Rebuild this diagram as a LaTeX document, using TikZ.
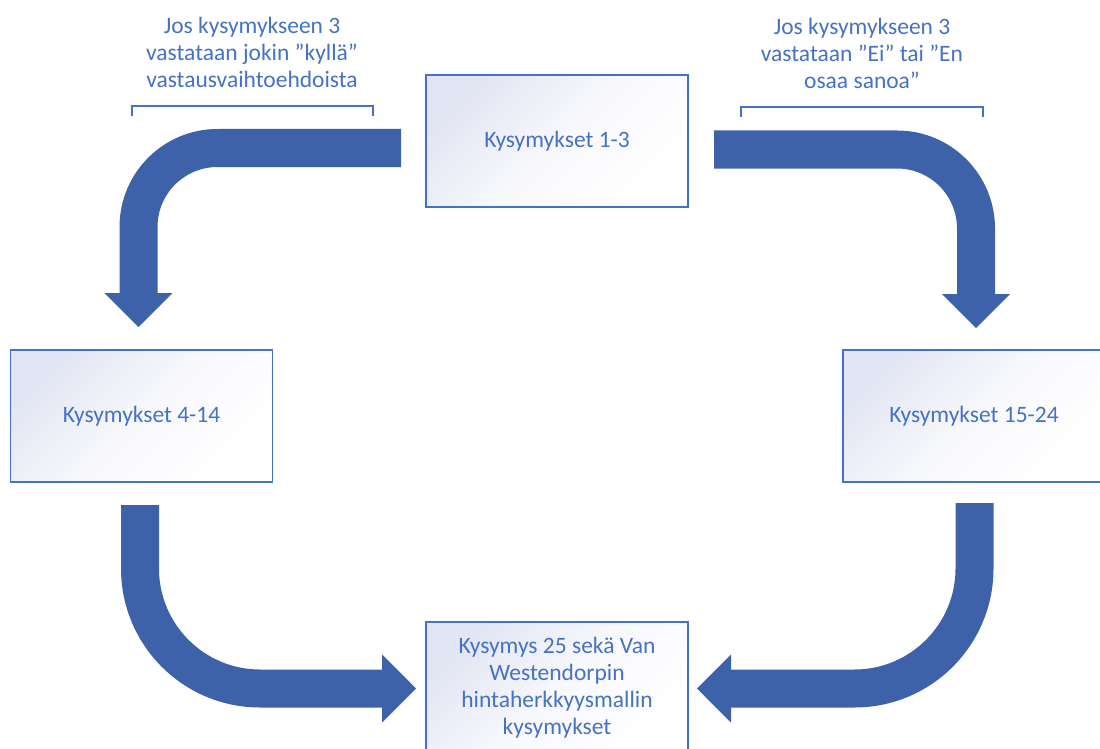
\documentclass[tikz,border=0pt]{standalone}
\usepackage{fontspec}
\setmainfont{Carlito}
\usetikzlibrary{arrows.meta}
\definecolor{txtblue}{RGB}{68,114,196}
\definecolor{arrblue}{RGB}{61,98,170}
\definecolor{boxtop}{RGB}{226,229,243}
\tikzset{
  qbox/.style={draw=txtblue, line width=1.3pt, top color=boxtop, bottom color=white, middle color=white!75!boxtop, shading angle=45,
    minimum width=262pt, minimum height=132pt, inner sep=2pt, align=center, text=txtblue,
    font=\fontsize{23.5}{27}\selectfont},
  lbl/.style={align=center, text=txtblue, font=\fontsize{23.5}{27}\selectfont, inner sep=0pt},
  brack/.style={draw=txtblue, line width=1.2pt},
  bigarrow/.style={draw=arrblue, line width=38pt, line cap=butt,
    -{Triangle[width=68pt,length=34pt,line width=0.1pt]}},
}
\begin{document}
\begin{tikzpicture}[x=1pt,y=-1pt]
\clip (0,0) rectangle (1100,749);
\useasboundingbox (0,0) rectangle (1100,749);
\node[qbox] (b1) at (557,141) {Kysymykset 1-3};
\node[qbox] (b2) at (141.5,416) {Kysymykset 4-14};
\node[qbox] (b3) at (974,416) {Kysymykset 15-24};
\node[qbox] (b4) at (557,688) {Kysymys 25 sekä Van\\Westendorpin\\hintaherkkyysmallin\\kysymykset};
% brackets and labels
\coordinate (l1) at (132,116); \coordinate (l2) at (132,106);
\coordinate (l3) at (373,106); \coordinate (l4) at (373,116);
\draw[brack] (l1) -- (l2) -- (l3) -- (l4);
\node[lbl] (t1) at (252,52) {Jos kysymykseen 3\\vastataan jokin ”kyllä”\\vastausvaihtoehdoista};
\coordinate (r1) at (741,117); \coordinate (r2) at (741,107);
\coordinate (r3) at (983,107); \coordinate (r4) at (983,117);
\draw[brack] (r1) -- (r2) -- (r3) -- (r4);
\node[lbl] (t2) at (862,53) {Jos kysymykseen 3\\vastataan ”Ei” tai ”En\\osaa sanoa”};
% arrows
\coordinate (a1s) at (401,148);
\coordinate (a1e) at (138.5,327);
\draw[bigarrow, rounded corners=79pt] (a1s) -| (a1e);
\coordinate (a2s) at (714,149.5);
\coordinate (a2e) at (976,328);
\draw[bigarrow, rounded corners=79pt] (a2s) -| (a2e);
\coordinate (a3s) at (140,505);
\coordinate (a3e) at (416,688.5);
\draw[bigarrow, rounded corners=120pt] (a3s) |- (a3e);
\coordinate (a4s) at (974.5,503);
\coordinate (a4e) at (697,688.5);
\draw[bigarrow, rounded corners=120pt] (a4s) |- (a4e);
\end{tikzpicture}
\end{document}
